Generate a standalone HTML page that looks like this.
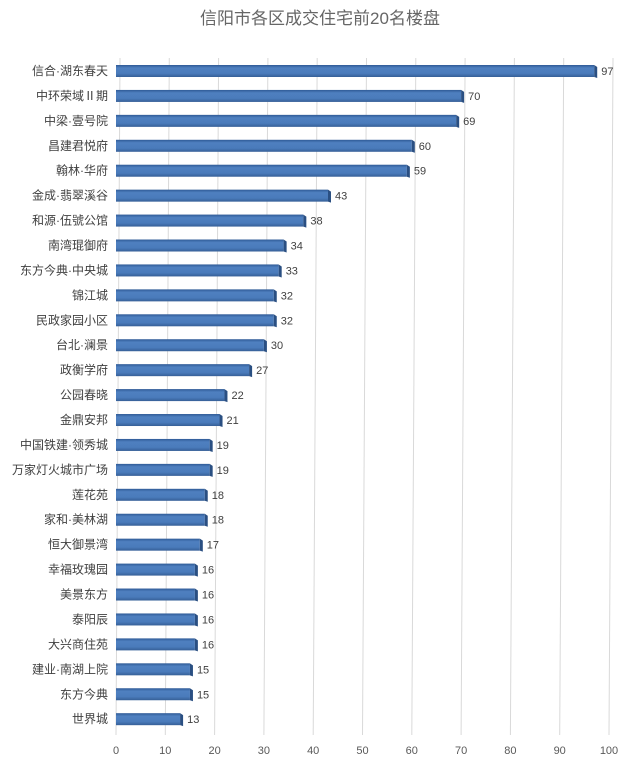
<!DOCTYPE html>
<html><head><meta charset="utf-8">
<style>
body{margin:0;background:#fff;}
svg{display:block;font-family:"Liberation Sans","Noto Sans CJK SC",sans-serif;}
</style></head>
<body>
<svg width="640" height="772" viewBox="0 0 640 772" xmlns="http://www.w3.org/2000/svg">
<defs>
<linearGradient id="bg" x1="0" y1="0" x2="0" y2="1">
<stop offset="0" stop-color="#2f5a96"/><stop offset="0.25" stop-color="#4f80c0"/><stop offset="0.7" stop-color="#4a7bbb"/><stop offset="1" stop-color="#365f97"/>
</linearGradient>
</defs>
<text x="320" y="24" text-anchor="middle" font-size="17" fill="#666">信阳市各区成交住宅前20名楼盘</text>
<g id="grid"></g>
<g id="bars"></g>
<g id="labels"></g>
</svg>
<script>
const categories=["信合·湖东春天","中环荣域Ⅱ期","中梁·壹号院","昌建君悦府","翰林·华府","金成·翡翠溪谷","和源·伍號公馆","南湾琨御府","东方今典·中央城","锦江城","民政家园小区","台北·澜景","政衡学府","公园春晓","金鼎安邦","中国铁建·领秀城","万家灯火城市广场","莲花苑","家和·美林湖","恒大御景湾","幸福玫瑰园","美景东方","泰阳辰","大兴商住苑","建业·南湖上院","东方今典","世界城"];
const values=[97,70,69,60,59,43,38,34,33,32,32,30,27,22,21,19,19,18,18,17,16,16,16,16,15,15,13];
const ticks=[0,10,20,30,40,50,60,70,80,90,100];
const NS="http://www.w3.org/2000/svg";
const x0=116,unit=4.93,yTop=71,step=24.93,bh=12;
const xs=v=>x0+v*unit, ys=i=>yTop+i*step;
function mk(t,a,p){const e=document.createElementNS(NS,t);for(const k in a)e.setAttribute(k,a[k]);p.appendChild(e);return e;}
const grid=document.getElementById('grid'),bars=document.getElementById('bars'),labels=document.getElementById('labels');
ticks.forEach(t=>{
 const l=mk('line',{x1:xs(t)+4,y1:58,x2:xs(t),y2:735,stroke:'#d9d9d9','stroke-width':1},grid);
 
 
 const tx=mk('text',{x:xs(t),y:754,'text-anchor':'middle','font-size':11,fill:'#595959'},grid);
 tx.textContent=t;
 
 
});
categories.forEach((c,i)=>{
 const y=ys(i),w=values[i]*unit;
 const g=mk('g',{},bars);
 
 
 mk('rect',{x:x0,y:y-bh/2,width:w,height:bh,fill:'url(#bg)'},g);
 mk('polygon',{points:`${x0+w},${y-bh/2} ${x0+w+3},${y-bh/2+2} ${x0+w+3},${y+bh/2+1} ${x0+w},${y+bh/2}`,fill:'#2a4f82'},g);
 const lt=mk('text',{x:108,y:y+4,'text-anchor':'end','font-size':12,fill:'#404040'},labels);
 lt.textContent=c;
 
 
 const vt=mk('text',{x:x0+w+7,y:y+4,'font-size':11,fill:'#404040'},labels);
 vt.textContent=values[i];
 
 
});
</script>
</body></html>
